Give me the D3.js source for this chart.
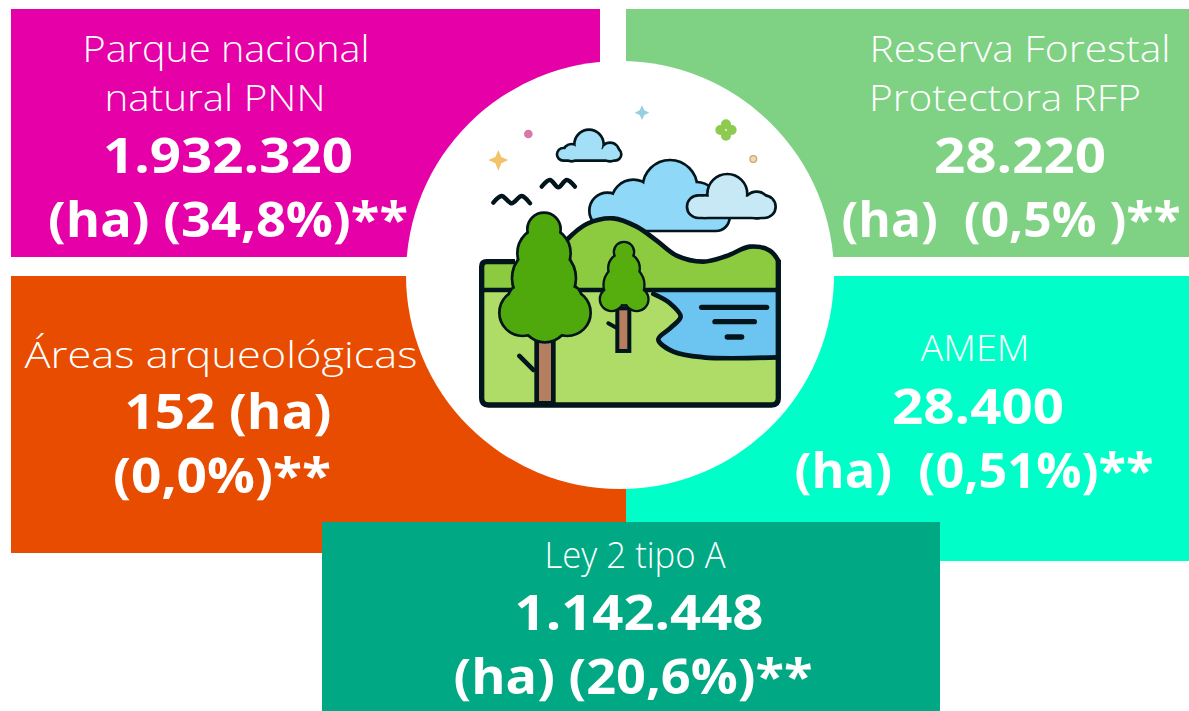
<!DOCTYPE html>
<html>

<head>
    <meta http-equiv="Content-Type" content="text/html;charset=utf-8">
    <title>Áreas protegidas</title>
    <script type="text/javascript" src="https://d3js.org/d3.v7.min.js"></script>
    <style>
        * {
            margin: 0;
            padding: 0;
        }
        html,
        body {
            background: #fff;
            overflow: hidden;
        }
        svg {
            display: block;
        }
        text {
            font-family: "Open Sans", "Noto Sans", sans-serif;
            fill: #fff;
            text-anchor: middle;
        }
    </style>
</head>

<body>
    <script type="text/javascript">
        // values
        var categories = ["Parque nacional natural PNN", "Reserva Forestal Protectora RFP", "Áreas arqueológicas", "AMEM", "Ley 2 tipo A"];
        var titleLines = [["Parque nacional", "natural PNN"], ["Reserva Forestal", "Protectora RFP"], ["Áreas arqueológicas"], ["AMEM"], ["Ley 2 tipo A"]];
        var hectares = ["1.932.320", "28.220", "152 (ha)", "28.400", "1.142.448"];
        var shares = ["(ha) (34,8%)**", "(ha)  (0,5% )**", "(0,0%)**", "(ha)  (0,51%)**", "(ha) (20,6%)**"];

        // layout of the panels
        var panelColors = ["#e600a8", "#7fd184", "#e84c00", "#00ffc8", "#00a884"];
        var panelBoxes = [[11, 9, 589, 248], [626, 9, 563, 248], [11, 276, 615, 277], [626, 276, 563, 285], [322, 522, 618, 189]];
        // [center x, baseline, width] for every text line of a panel
        var titlePos = [[[226, 62, 287], [215, 111, 221]], [[1020, 62, 301], [1005, 111, 272]], [[221, 368, 393]], [[975, 361, 109]], [[635, 568, 181]]];
        var valuePos = [[228, 173, 250], [1020, 173, 172], [228, 429, 207], [978, 424, 172], [639, 630, 249]];
        var sharePos = [[228, 237, 360], [1011, 237, 339], [222, 493, 218], [974, 488, 359], [633, 694, 359]];

        var svg = d3.select("body").append("svg").attr("width", 1189).attr("height", 711);

        var defs = svg.append("defs");
        defs.append("filter").attr("id", "soft")
            .append("feGaussianBlur").attr("stdDeviation", 2);

        categories.slice(0, 4).forEach(function (name, i) { drawPanel(i); });

        svg.append("circle").attr("cx", 620).attr("cy", 275).attr("r", 214).attr("fill", "#fff");

        drawPanel(4);

        categories.forEach(function (name, i) {
            var g = svg.append("g").attr("class", "labels").attr("data-name", name);
            titleLines[i].forEach(function (line, j) {
                addText(g, line, titlePos[i][j], 37, 300);
            });
            addText(g, hectares[i], valuePos[i], 49, 700);
            addText(g, shares[i], sharePos[i], 49, 700);
        });

        function drawPanel(i) {
            var b = panelBoxes[i];
            svg.append("rect").attr("x", b[0]).attr("y", b[1]).attr("width", b[2]).attr("height", b[3]).attr("fill", panelColors[i]);
        }

        function addText(g, str, pos, size, weight) {
            g.append("text")
                .attr("x", pos[0])
                .attr("y", pos[1])
                .attr("font-size", size)
                .attr("font-weight", weight)
                .attr("textLength", pos[2])
                .attr("lengthAdjust", "spacingAndGlyphs")
                .style("white-space", "pre")
                .text(str);
        }

        // landscape icon, outlines in a 960 wide box
        var ink = "#06131a";
        var icon = svg.append("g").attr("transform", "translate(470,90) scale(0.3333)").attr("filter", "url(#soft)");
        var open = d3.line().curve(d3.curveCatmullRom.alpha(0.5));
        var straight = d3.line();

        function shape(gen, pts, fill, width) {
            icon.append("path").attr("d", gen(pts))
                .attr("fill", fill)
                .attr("stroke", width ? ink : "none")
                .attr("stroke-width", width)
                .attr("stroke-linecap", "round")
                .attr("stroke-linejoin", "round");
        }

        // lobed outline: all parts stroked first, then filled again on top
        function blob(circles, boxes, fill, width) {
            [width, 0].forEach(function (w) {
                circles.forEach(function (c) {
                    icon.append("circle").attr("cx", c[0]).attr("cy", c[1]).attr("r", c[2])
                        .attr("fill", fill).attr("stroke", w ? ink : "none").attr("stroke-width", w * 2);
                });
                boxes.forEach(function (b) {
                    icon.append("rect").attr("x", b[0]).attr("y", b[1]).attr("width", b[2]).attr("height", b[3]).attr("rx", b[3] / 2)
                        .attr("fill", fill).attr("stroke", w ? ink : "none").attr("stroke-width", w * 2);
                });
            });
        }

        // sparkles
        shape(straight, [[85, 180], [94, 201], [115, 210], [94, 220], [85, 242], [76, 220], [55, 210], [76, 201]], "#f2c36b", 0);
        shape(straight, [[516, 46], [523, 61], [538, 68], [523, 75], [516, 90], [509, 75], [494, 68], [509, 61]], "#96cfe0", 0);
        icon.append("circle").attr("cx", 175).attr("cy", 132).attr("r", 13).attr("fill", "#d678a8");
        icon.append("circle").attr("cx", 850).attr("cy", 207).attr("r", 10).attr("fill", "#f0dca8").attr("stroke", "#c9a878").attr("stroke-width", 4);
        [[768, 103], [768, 137], [751, 120], [785, 120]].forEach(function (c) {
            icon.append("circle").attr("cx", c[0]).attr("cy", c[1]).attr("r", 15).attr("fill", "#8ccb50");
        });

        // clouds
        blob([[357, 163, 40], [305, 188, 22], [420, 186, 24]], [[265, 178, 185, 30]], "#a3e0f7", 8);
        blob([[600, 292, 78], [490, 335, 62], [412, 362, 50], [680, 340, 60]], [[380, 345, 395, 74]], "#8fd8f8", 8);
        blob([[772, 312, 56], [860, 345, 36], [705, 350, 30]], [[655, 320, 258, 60]], "#c7e9f5", 8);

        // birds
        shape(open, [[70, 338], [95, 318], [125, 340], [155, 318], [180, 340]], "none", 13);
        shape(open, [[215, 290], [240, 270], [265, 292], [290, 270], [315, 290]], "none", 13);

        // back hills
        var hill = [[290, 450], [350, 402], [430, 385], [500, 410], [560, 452], [620, 497], [700, 515], [770, 498], [840, 470], [900, 482], [925, 512]];
        icon.append("path").attr("d", "M35,515H135L" + open(hill).slice(1) + "V600H35Z").attr("fill", "#8ccb3f");
        shape(open, hill, "none", 14);

        // front land and lake
        var shore = [[550, 612], [600, 640], [632, 680], [600, 715], [565, 748], [610, 785], [700, 802], [925, 802]];
        icon.append("rect").attr("x", 35).attr("y", 600).attr("width", 890).attr("height", 345).attr("fill", "#aedc66");
        icon.append("path").attr("d", open(shore) + "L925,605L550,605Z").attr("fill", "#6cc5f0");
        shape(open, shore, "none", 14);
        shape(straight, [[35, 600], [925, 600]], "none", 14);
        shape(straight, [[695, 652], [890, 652]], "none", 16);
        shape(straight, [[735, 695], [853, 695]], "none", 16);
        shape(straight, [[772, 741], [815, 741]], "none", 16);

        // frame
        icon.append("path").attr("d", "M35,600V530Q35,515 50,515H135M925,510V925Q925,945 905,945H55Q35,945 35,925V600")
            .attr("fill", "none").attr("stroke", ink).attr("stroke-width", 16);

        // trees
        shape(straight, [[148, 798], [190, 840]], "none", 14);
        icon.append("rect").attr("x", 200).attr("y", 750).attr("width", 50).attr("height", 190).attr("fill", "#b57f5f").attr("stroke", ink).attr("stroke-width", 14);
        blob([[222, 418, 46], [222, 490, 76], [222, 565, 92], [158, 668, 66], [292, 668, 66], [225, 685, 68], [150, 620, 30], [300, 620, 30]], [], "#4fa90a", 8);
        shape(straight, [[415, 700], [442, 715]], "none", 12);
        icon.append("rect").attr("x", 442).attr("y", 655).attr("width", 36).attr("height", 128).attr("fill", "#b57f5f").attr("stroke", ink).attr("stroke-width", 12);
        blob([[462, 486, 27], [462, 535, 44], [462, 585, 58], [425, 628, 32], [500, 628, 32]], [], "#55ae0c", 7);
    </script>
</body>

</html>
